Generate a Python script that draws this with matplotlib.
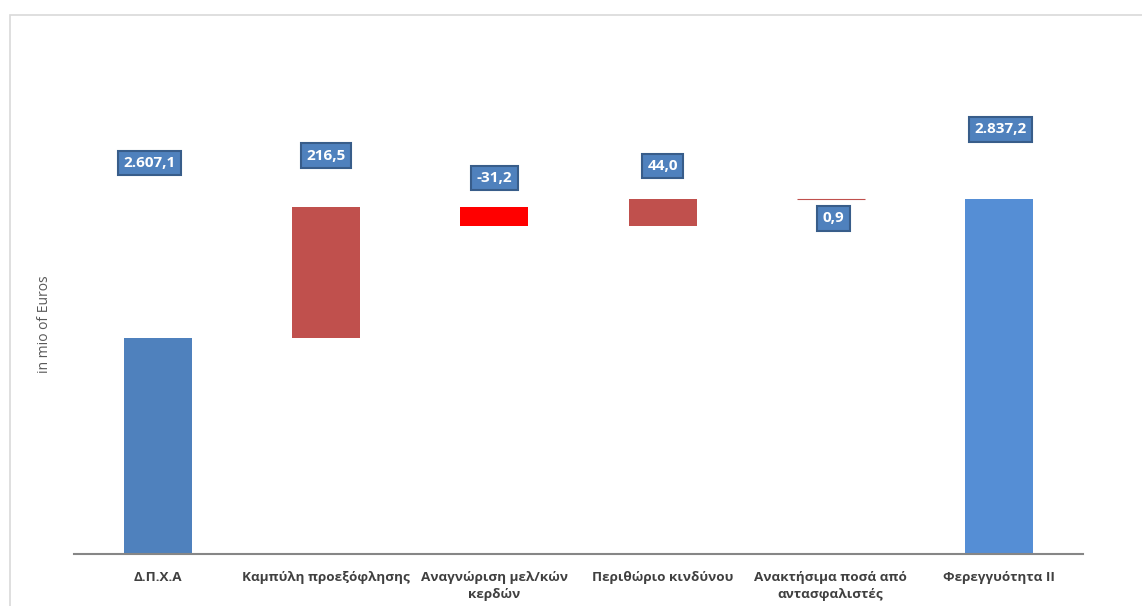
import numpy as np
import matplotlib
matplotlib.use("Agg")
import matplotlib.pyplot as plt
from matplotlib.patches import Rectangle

plt.rcParams['font.family'] = ['Open Sans', 'DejaVu Sans']

# Waterfall data (in mio of Euros)
categories = ["Δ.Π.Χ.Α", "Καμπύλη προεξόφλησης", "Αναγνώριση μελ/κών\nκερδών",
              "Περιθώριο κινδύνου", "Ανακτήσιμα ποσά από\nαντασφαλιστές", "Φερεγγυότητα II"]
start_value = 2607.1
changes = [216.5, -31.2, 44.0, 0.9]
end_value = 2837.2
value_labels = ["2.607,1", "216,5", "-31,2", "44,0", "0,9", "2.837,2"]

# label placement relative to the top of each bar (points)
label_offsets = [(-6, 126), (0, 37), (0, 21), (0, 24), (2, -14), (1, 50)]

bar_colors = ["#4F81BD", "#C0504D", "#FF0000", "#C0504D", "#C0504D", "#558ED5"]

# build floating bars
bottoms = [0.0]
heights = [start_value]
running = start_value
for c in changes:
    lo = min(running, running + c)
    bottoms.append(lo)
    heights.append(abs(c))
    running += c
bottoms.append(0.0)
heights.append(end_value)
tops = [b + h for b, h in zip(bottoms, heights)]

fig = plt.figure(figsize=(11.42, 6.06), dpi=100)
ax = fig.add_axes([74 / 1142, 52 / 606, 1009 / 1142, 514 / 606])

x = np.arange(len(categories))
ax.bar(x, heights, bottom=bottoms, width=0.405, color=bar_colors,
       edgecolor=[c if h < 2 else "none" for c, h in zip(bar_colors, heights)],
       linewidth=0.8, zorder=2)

for i, (lab, (dx, dy)) in enumerate(zip(value_labels, label_offsets)):
    ax.annotate(lab, xy=(x[i], tops[i]), xytext=(dx, dy),
                textcoords="offset points", ha="center", va="center",
                color="white", fontsize=11, fontweight="bold",
                bbox=dict(boxstyle="square,pad=0.35", fc="#4F81BD",
                          ec="#385D8A", lw=1.5))

ax.set_xlim(-0.5, len(categories) - 0.5)
ax.set_ylim(2250, 3100)
ax.set_xticks(x)
ax.set_xticklabels(categories, fontsize=9.7, fontweight="bold", color="#404040",
                   linespacing=1.45)
ax.tick_params(axis="x", length=0, pad=12)
ax.set_yticks([])
ax.set_ylabel("in mio of Euros", fontsize=10, color="#595959")
ax.yaxis.set_label_coords(-0.022, 0.447)

for side in ["top", "right", "left"]:
    ax.spines[side].set_visible(False)
ax.spines["bottom"].set_color("#868686")
ax.spines["bottom"].set_linewidth(1.5)

# light chart frame, cut off at the right and bottom like the source
fig.add_artist(Rectangle((10 / 1142, -0.1), 1.2, (606 - 15) / 606 + 0.1,
                         transform=fig.transFigure, fill=False,
                         ec="#D9D9D9", lw=1.2))

fig.savefig("out.png", dpi=100)
